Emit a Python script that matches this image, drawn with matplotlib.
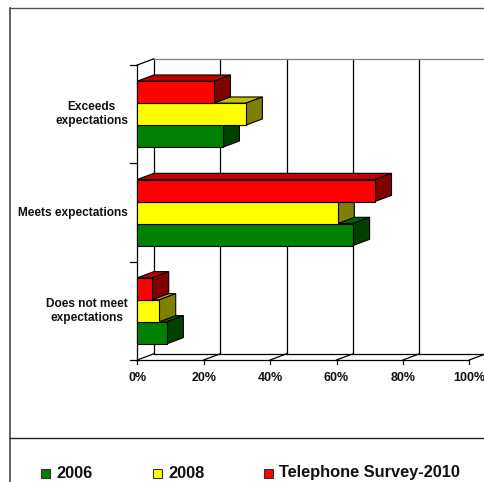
"""Customer expectations survey - 3D style horizontal bar chart"""

import numpy as np
import matplotlib
matplotlib.use("Agg")
import matplotlib.pyplot as plt
from matplotlib.patches import Polygon, Rectangle
from matplotlib.lines import Line2D

plt.rcParams["font.family"] = ["Liberation Sans", "DejaVu Sans"]
plt.rcParams["font.weight"] = "bold"

# data (percent)
categories = ["Does not meet\nexpectations", "Meets expectations", "Exceeds\nexpectations"]
series = ["2006", "2008", "Telephone Survey-2010"]
values = {
    "2006": [8.9, 65.0, 25.8],
    "2008": [6.6, 60.4, 32.7],
    "Telephone Survey-2010": [4.5, 71.6, 23.1],
}
x_ticks = [0, 20, 40, 60, 80, 100]
x_tick_labels = ["0%", "20%", "40%", "60%", "80%", "100%"]

# face colours: front, top, side
colors = {
    "2006": ("#008000", "#006000", "#004000"),
    "2008": ("#FFFF00", "#C0C000", "#808000"),
    "Telephone Survey-2010": ("#FF0000", "#C00000", "#800000"),
}

W, H = 484, 482
fig = plt.figure(figsize=(W / 100, H / 100), dpi=100)
ax = fig.add_axes([0, 0, 1, 1])
ax.set_axis_off()

# pixel layout of the plot
x0_px, sx = 137.3, 3.32       # px of 0%, px per %
y0_px, sy = 360.0, 98.33      # px (from top) of floor, px per category
ax.set_xlim(-x0_px / sx, (W - x0_px) / sx)
ax.set_ylim(-(H - y0_px) / sy, y0_px / sy)

n_cat = len(categories)
DX = 16.5 / sx        # depth offset in x (%)
DY = 6.2 / sy         # depth offset in y (category units)
bar_h = 22.0 / sy

# chart frame
fig.add_artist(Line2D([10 / W, 10 / W], [0, 1 - 8 / H], color="#555555", lw=1.3))
fig.add_artist(Line2D([10 / W, 1], [1 - 8 / H, 1 - 8 / H], color="#555555", lw=1.0))
fig.add_artist(Line2D([10 / W, 1], [1 - 438 / H, 1 - 438 / H], color="#222222", lw=1.0))

lc = "#000000"
# back wall gridlines
for t in x_ticks:
    ax.plot([t + DX, t + DX], [DY, n_cat + DY], color=lc, lw=0.9, zorder=1)
ax.plot([DX, 100 + DX + 10], [n_cat + DY, n_cat + DY], color="#808080", lw=0.9, zorder=1)
# left wall
ax.plot([0, 0], [0, n_cat], color=lc, lw=0.9, zorder=1)
ax.plot([0, DX], [n_cat, n_cat + DY], color=lc, lw=0.9, zorder=1)
for k in range(n_cat + 1):
    ax.plot([-2.1, 0], [k, k], color=lc, lw=0.9, zorder=1)
# floor
ax.plot([0, 100], [0, 0], color=lc, lw=0.9, zorder=1)
ax.plot([DX, 100 + DX + 10], [DY, DY], color=lc, lw=0.9, zorder=1)
for t in x_ticks:
    ax.plot([t, t + DX], [0, DY], color=lc, lw=0.9, zorder=1)
    ax.plot([t, t], [0, -0.04], color=lc, lw=0.9, zorder=1)

# bars, drawn bottom to top inside each group
ec = "#000000"
for i in range(n_cat):
    centre = i + 0.5
    for j, name in enumerate(series):
        v = values[name][i]
        yb = centre - 1.5 * bar_h + j * bar_h
        yt = yb + bar_h
        front, top, side = colors[name]
        z = 2 + i * 3 + j
        ax.add_patch(Polygon([(0, yt), (v, yt), (v + DX, yt + DY), (DX, yt + DY)],
                             closed=True, fc=top, ec=ec, lw=0.8, zorder=z))
        ax.add_patch(Polygon([(v, yb), (v + DX, yb + DY), (v + DX, yt + DY), (v, yt)],
                             closed=True, fc=side, ec=ec, lw=0.8, zorder=z))
        ax.add_patch(Rectangle((0, yb), v, bar_h, fc=front, ec=ec, lw=0.8, zorder=z))

# axis labels
for t, lab in zip(x_ticks, x_tick_labels):
    ax.text(t, -18 / sy, lab, ha="center", va="center", fontsize=9, fontweight="bold",
            color="#111111")
for i, lab in enumerate(categories):
    ax.text(-2.8, i + 0.5, lab, ha="right", va="center", ma="center", fontsize=8.6,
            fontweight="bold", color="#111111", linespacing=1.25)

# legend
leg_y = 473
leg_x = [41, 153, 264]
for name, lx in zip(series, leg_x):
    fig.add_artist(Rectangle((lx / W, 1 - (leg_y + 4.5) / H), 9 / W, 9 / H,
                             fc=colors[name][0], ec="#333333", lw=0.8,
                             transform=fig.transFigure))
    fig.text((lx + 15) / W, 1 - leg_y / H, name, ha="left", va="center",
             fontsize=11.8, fontweight="bold", color="#111111")

fig.savefig("out.png", dpi=100)
